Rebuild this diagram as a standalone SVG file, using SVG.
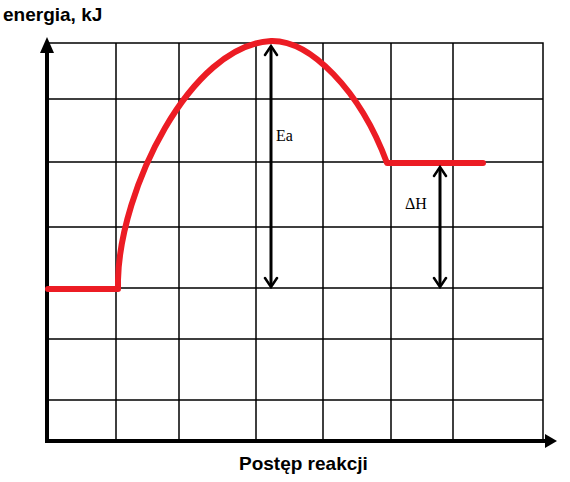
<svg xmlns="http://www.w3.org/2000/svg" width="570" height="482" viewBox="0 0 570 482">
<style>
.grid{stroke:#000;stroke-width:1.5;fill:none}
.axis{stroke:#000;stroke-width:4;fill:none}
.curve{stroke:#ec1c24;stroke-width:6;fill:none;stroke-linejoin:round;stroke-linecap:round}
.dim{stroke:#000;stroke-width:3;fill:none}
.head{stroke:#000;stroke-width:2.5;fill:none;stroke-linecap:round}
.lab{font-family:"Liberation Sans",Arial,sans-serif;font-weight:bold;font-size:19px;fill:#000}
.ser{font-family:"Liberation Serif","Times New Roman",serif;font-size:16px;fill:#000}
</style>
<rect width="570" height="482" fill="#fff"/>
<g id="grid">
<path class="grid" d="M47,43H543V441 M116,43V441 M179,43V441 M256,43V441 M323,43V441 M391,43V441 M453,43V441 M47,99H543 M47,162H543 M47,227H543 M47,288H543 M47,339H543 M47,400H543"/>
</g>
<g id="axes">
<path class="axis" d="M47,52V443 M45,441H546"/>
<polygon points="47,37 40,53 54,53" fill="#000"/>
<polygon points="557,441 545,434 545,448" fill="#000"/>
</g>
<g id="curve">
<path class="curve" d="M48,289H118V280C120,190 190,45 271,41C310,40 360,90 387,163H483"/>
</g>
<g id="connectors">
<path class="dim" d="M271,47V286"/>
<path class="head" d="M265,55L271,46L277,55 M265,278L271,287L277,278"/>
<path class="dim" d="M440,168V286"/>
<path class="head" d="M434,176L440,167L446,176 M434,278L440,287L446,278"/>
</g>
<text class="lab" x="3" y="21">energia, kJ</text>
<text class="lab" x="239" y="470">Postęp reakcji</text>
<text class="ser" x="276" y="141">Ea</text>
<text class="ser" x="405" y="209">ΔH</text>
</svg>
